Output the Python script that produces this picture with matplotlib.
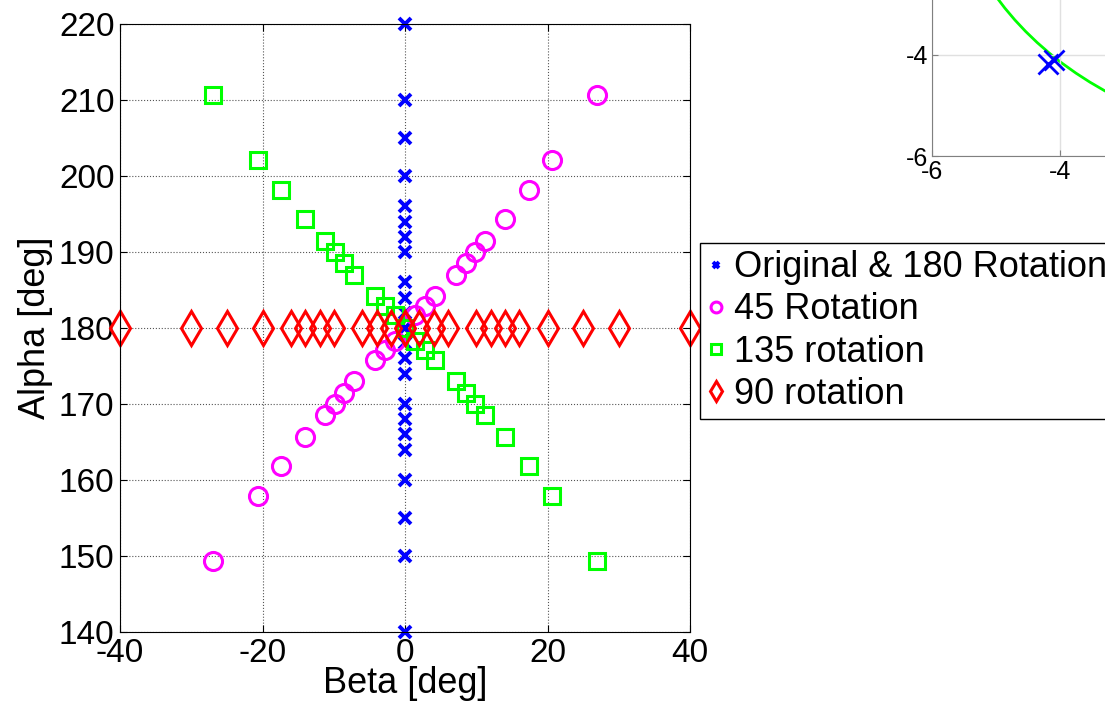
import matplotlib.pyplot as plt
from matplotlib.patches import Circle

plt.rcParams['font.family'] = ['Liberation Sans', 'DejaVu Sans']
plt.rcParams['axes.unicode_minus'] = False

# original & 180 rotation: beta = 0
orig_beta = [0] * 23
orig_alpha = [140, 150, 155, 160, 164, 166, 168, 170, 174, 176, 178, 180,
              182, 184, 186, 190, 192, 194, 196, 200, 205, 210, 220]

# 45 rotation
r45_beta = [-27.0, -20.6, -17.4, -14.0, -11.2, -9.8, -8.5, -7.1, -4.2, -2.8, -1.4, 0.0,
            1.4, 2.8, 4.2, 7.1, 8.5, 9.8, 11.2, 14.0, 17.4, 20.6, 27.0]
r45_alpha = [149.4, 157.9, 161.8, 165.6, 168.5, 170.0, 171.5, 173.0, 175.8, 177.1, 178.3, 180.0,
             181.7, 182.9, 184.2, 187.0, 188.5, 190.0, 191.5, 194.4, 198.2, 202.1, 210.6]

# 135 rotation
r135_beta = [-27.0, -20.6, -17.4, -14.0, -11.2, -9.8, -8.5, -7.1, -4.2, -2.8, -1.4, 0.0,
             1.4, 2.8, 4.2, 7.1, 8.5, 9.8, 11.2, 14.0, 17.4, 20.6, 27.0]
r135_alpha = [210.6, 202.1, 198.2, 194.4, 191.5, 190.0, 188.5, 187.0, 184.2, 182.9, 181.7, 180.0,
              178.3, 177.1, 175.8, 173.0, 171.5, 170.0, 168.5, 165.6, 161.8, 157.9, 149.4]

# 90 rotation: alpha = 180
r90_beta = [-40, -30, -25, -20, -16, -14, -12, -10, -6, -4, -2, 0,
            2, 4, 6, 10, 12, 14, 16, 20, 25, 30, 40]
r90_alpha = [180] * 23

labels = ['Original & 180 Rotation', '45 Rotation', '135 rotation', '90 rotation']

# inset (partially visible second plot)
inset_radius = 5.75
inset_x = [-4.18, -4.10]
inset_y = [-4.17, -4.10]

fig = plt.figure(figsize=(11.05, 7.03), dpi=100)

# inset first so the main axes and legend sit on top
ax2 = fig.add_axes([932 / 1105, 1 - 156 / 703, 768 / 1105, 606 / 703])
ax2.add_patch(Circle((0, 0), inset_radius, fill=False, ec=(0, 1, 0), lw=2))
ax2.plot(inset_x, inset_y, 'x', color='blue', ms=14, mew=2)
ax2.set_xlim(-6, 6)
ax2.set_ylim(-6, 6)
ax2.set_xticks([-6, -4])
ax2.set_yticks([-6, -4])
ax2.grid(True, color='#e0e0e0', lw=1)
ax2.tick_params(direction='in', length=4, labelsize=18, color='gray', pad=3)
for s in ax2.spines.values():
    s.set_color('gray')

ax = fig.add_axes([120 / 1105, 1 - 632 / 703, 570 / 1105, 608 / 703])
ax.plot(orig_beta, orig_alpha, 'x', color='blue', ms=8, mew=2.8, label=labels[0], clip_on=False)
ax.plot(r45_beta, r45_alpha, 'o', color='magenta', mfc='none', ms=13, mew=2.2, label=labels[1], clip_on=False)
ax.plot(r135_beta, r135_alpha, 's', color=(0, 1, 0), mfc='none', ms=11, mew=2.2, label=labels[2], clip_on=False)
ax.plot(r90_beta, r90_alpha, 'd', color='red', mfc='none', ms=17, mew=2.2, label=labels[3], clip_on=False)

ax.set_xlim(-40, 40)
ax.set_ylim(140, 220)
ax.set_xticks([-40, -20, 0, 20, 40])
ax.set_yticks(range(140, 221, 10))
ax.grid(True, color='#555555', linestyle=':', lw=0.8)
ax.tick_params(direction='in', length=5, labelsize=24, top=True, right=True, pad=4)
ax.set_xlabel('Beta [deg]', fontsize=26, labelpad=-2)
ax.set_ylabel('Alpha [deg]', fontsize=26, labelpad=4)

leg = ax.legend(loc='upper left', bbox_to_anchor=(700 / 1105, 1 - 243 / 703),
                bbox_transform=fig.transFigure, fontsize=26, markerscale=0.6,
                handlelength=0.5, handletextpad=0.25, labelspacing=0.2,
                borderpad=0.2, borderaxespad=0, fancybox=False, framealpha=1)
leg.get_frame().set_edgecolor('black')
leg.get_frame().set_linewidth(1)

fig.savefig('out.png', dpi=100)
